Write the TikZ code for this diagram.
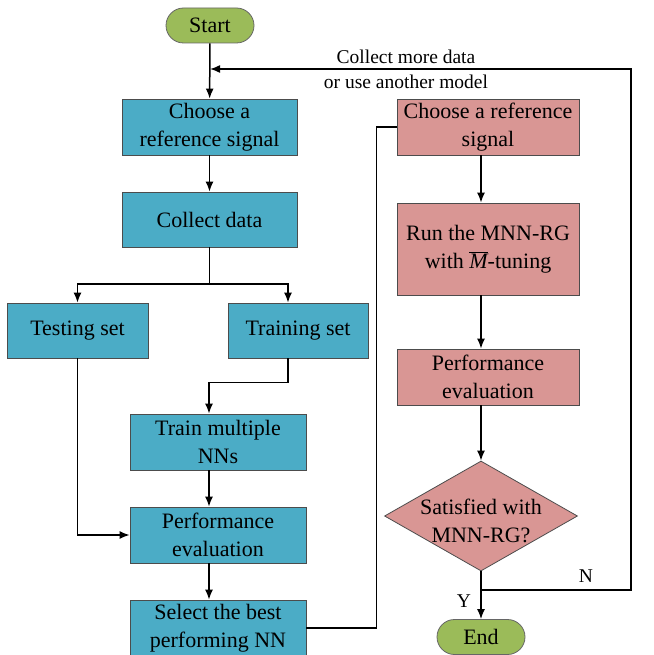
\documentclass[tikz,border=0pt]{standalone}
\usepackage{fontspec}
\setmainfont{Liberation Serif}
\usepackage{xcolor}
\usepackage{tikz}
\usetikzlibrary{positioning}
\usetikzlibrary{arrows.meta, shapes.geometric, shapes.misc, calc}
\definecolor{stepblue}{HTML}{4BACC6}
\definecolor{steppink}{HTML}{D99694}
\definecolor{termgreen}{HTML}{9BBB59}

\tikzset{
    boxtext/.style={font=\fontsize{22}{28}\selectfont},
    bluebox/.style={boxtext, draw=black!70, line width=0.8pt, fill=stepblue, align=center, inner sep=0pt},
    pinkbox/.style={boxtext, draw=black!70, line width=0.8pt, fill=steppink, align=center, inner sep=0pt, minimum width=182, minimum height=56},
    terminal/.style={boxtext, rounded rectangle, draw=black!60, line width=0.8pt, fill=termgreen, minimum width=88, minimum height=35, inner sep=0pt},
    decision/.style={diamond, draw=black!70, line width=0.8pt, fill=steppink, minimum width=193, minimum height=110, inner sep=0pt},
    flow/.style={line width=1.5pt, -{Latex[length=10pt, width=8pt]}},
    link/.style={line width=1.5pt},
    note/.style={font=\fontsize{19.5}{25}\selectfont}
}

\begin{document}
\begin{tikzpicture}[x=1pt, y=-1pt]
        \useasboundingbox (0,0) rectangle (653,655);
        \node[terminal] (start) at (210,25.5) {Start};
        \node[bluebox, minimum width=175, minimum height=56] (refone) at (209.5,127) {Choose a\\reference signal};
        \node[bluebox, minimum width=175, minimum height=55] (collect) at (209.5,219.5) {Collect data};
        \node[bluebox, minimum width=141, minimum height=55] (testing) at (77.5,330.5) {Testing set};
        \node[bluebox, minimum width=140, minimum height=55] (training) at (298,330.5) {Training set};
        \node[bluebox, minimum width=176, minimum height=56] (trainnn) at (218,442) {Train multiple\\NNs};
        \node[bluebox, minimum width=176, minimum height=56] (perfone) at (218,535) {Performance\\evaluation};
        \node[bluebox, minimum width=176, minimum height=56] (select) at (218,628) {Select the best\\performing NN};
        \node[pinkbox] (reftwo) at (488,127) {Choose a reference\\signal};
        \node[pinkbox, minimum height=92] (run) at (488,249) {Run the MNN-RG\\with \(\overline{\textit{M}}\)-tuning};
        \node[pinkbox] (perftwo) at (488,377) {Performance\\evaluation};
        \node[decision] (check) at (481,516) {};
        \node[boxtext, align=center] (checktext) at ([yshift=-5pt]check) {Satisfied with\\MNN-RG?};
        \node[terminal] (end) at (481,637) {End};

        \coordinate (merge) at (210,69);
        \coordinate (split) at (209.5,284);
        \coordinate (fork) at (481,590);

        \draw[flow] (start) -- (refone);
        \draw[flow] (refone) -- (collect);
        \draw[link] (collect) -- (split);
        \draw[flow] (split) -| (testing);
        \draw[flow] (split) -| ([xshift=-10pt]training.north);
        \draw[flow] ([xshift=-10pt]training.south) -- ++(0,24) -| ([xshift=-9pt]trainnn.north);
        \draw[flow] ([xshift=-9pt]trainnn.south) -- ([xshift=-9pt]perfone.north);
        \draw[flow] ([xshift=-9pt]perfone.south) -- ([xshift=-9pt]select.north);
        \draw[flow] (testing) |- (perfone);
        \draw[link] (select.east) -- ++(70,0) |- (reftwo);
        \draw[flow] ([xshift=-7pt]reftwo.south) -- ([xshift=-7pt]run.north);
        \draw[flow] ([xshift=-7pt]run.south) -- ([xshift=-7pt]perftwo.north);
        \draw[flow] ([xshift=-7pt]perftwo.south) -- (check.north);
        \draw[flow] (check) -- (end);
        \draw[flow] (fork) -- ++(150,0) |- (merge);

        \node[note] (yes) at (464,601) {Y};
        \node[note] (no) at (586,576) {N};
        \node[note, align=center] (loopnote) at (406,69.5) {Collect more data\\or use another model};
    \end{tikzpicture}
\end{document}
